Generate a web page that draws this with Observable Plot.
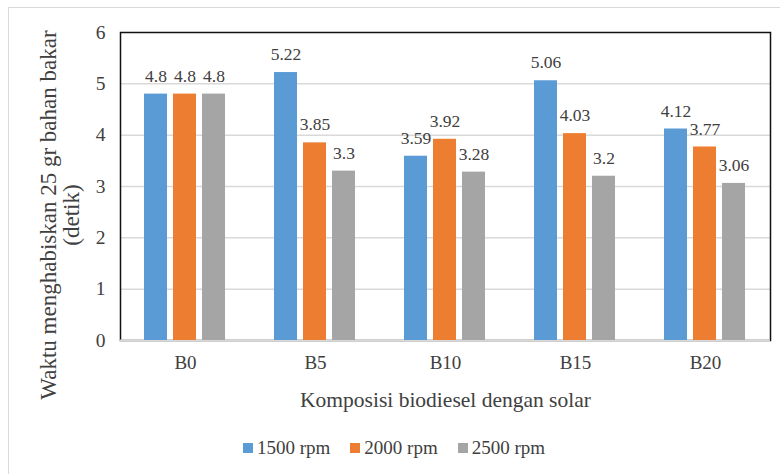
<!DOCTYPE html>
<html>
<head>
<meta charset="utf-8">
<script src="https://cdn.jsdelivr.net/npm/d3@7"></script>
<script src="https://cdn.jsdelivr.net/npm/@observablehq/plot@0.6"></script>
<style>
  html, body { margin: 0; padding: 0; background: #fff; }
  #wrap { position: relative; width: 780px; height: 474px; overflow: hidden; font-family: "Liberation Serif", "DejaVu Serif", serif; }
  #border { position: absolute; left: 8px; top: 7px; width: 800px; height: 500px; border-left: 1.5px solid #d9d9d9; border-top: 1.5px solid #d9d9d9; }
  #chart { position: absolute; left: 0; top: 0; }
  #ytitle { position: absolute; left: -140.5px; top: 192px; width: 400px; height: 46px; line-height: 23px; font-size: 23px; color: #404040; text-align: center; white-space: pre; transform: rotate(-90deg); transform-origin: 50% 50%; }
  #legend { position: absolute; left: 0; top: 437px; width: 780px; display: flex; justify-content: center; gap: 20px; font-size: 19px; color: #404040; padding-left: 8px; box-sizing: border-box; }
  .item { display: flex; align-items: center; gap: 4px; }
  .sw { width: 10px; height: 10px; display: inline-block; }
</style>
</head>
<body>
<div id="wrap">
  <div id="border"></div>
  <div id="chart"></div>
  <div id="ytitle"></div>
  <div id="legend"></div>
</div>
<script>
const categories = ["B0", "B5", "B10", "B15", "B20"];
const series = ["1500 rpm", "2000 rpm", "2500 rpm"];
const colors = ["#5b9bd5", "#ed7d31", "#a5a5a5"];
const v1500 = [4.8, 5.22, 3.59, 5.06, 4.12];
const v2000 = [4.8, 3.85, 3.92, 4.03, 3.77];
const v2500 = [4.8, 3.3, 3.28, 3.2, 3.06];
const yTicks = [0, 1, 2, 3, 4, 5, 6];
const yTitle = "Waktu menghabiskan 25 gr bahan bakar\n(detik)";
const xTitle = "Komposisi biodiesel dengan solar";
const FONT = "Liberation Serif";

const allValues = [v1500, v2000, v2500];
const data = [];
categories.forEach((c, i) => {
  series.forEach((s, j) => {
    data.push({cat: c, rpm: s, value: allValues[j][i]});
  });
});

const chart = Plot.plot({
  width: 780,
  height: 425,
  marginTop: 32,
  marginBottom: 85,
  marginLeft: 120,
  marginRight: 10,
  style: {background: "transparent"},
  fx: {domain: categories, padding: 0},
  x: {domain: series, paddingInner: 0.2, paddingOuter: 0.84, axis: null},
  y: {domain: [0, 6]},
  color: {domain: series, range: colors},
  marks: [
    Plot.ruleY(yTicks.slice(1, -1), {stroke: "#d9d9d9", strokeWidth: 1.5}),
    Plot.frame({stroke: "#111", strokeWidth: 1.5, facet: "super"}),
    Plot.ruleY([0], {stroke: "#d9d9d9", strokeWidth: 2}),
    Plot.barY(data, {fx: "cat", x: "rpm", y: "value", fill: "rpm"}),
    Plot.text(data, {fx: "cat", x: "rpm", y: "value", text: d => String(d.value), dy: -18, fontSize: 17.5, fontFamily: FONT, fill: "#404040"}),
    Plot.axisY({ticks: yTicks, tickFormat: d => String(d), tickSize: 0, tickPadding: 15, fontSize: 19.5, fontFamily: FONT, color: "#404040", label: null}),
    Plot.axisFx({anchor: "bottom", tickSize: 0, tickPadding: 15, fontSize: 19, fontFamily: FONT, color: "#404040",
      label: xTitle, labelAnchor: "center", labelArrow: "none", labelOffset: 66})
  ]
});
document.getElementById("chart").appendChild(chart);
chart.querySelectorAll("[aria-label='fx-axis label']").forEach(g => {
  g.setAttribute("font-size", 21.5);
  g.querySelectorAll("text").forEach(t => t.setAttribute("font-size", 21.5));
});
chart.querySelectorAll("text").forEach(t => t.setAttribute("font-family", FONT));

document.getElementById("ytitle").textContent = yTitle;

const legend = document.getElementById("legend");
series.forEach((s, j) => {
  const item = document.createElement("div");
  item.className = "item";
  const sw = document.createElement("span");
  sw.className = "sw";
  sw.style.background = colors[j];
  const lab = document.createElement("span");
  lab.textContent = s;
  item.appendChild(sw);
  item.appendChild(lab);
  legend.appendChild(item);
});
</script>
</body>
</html>
